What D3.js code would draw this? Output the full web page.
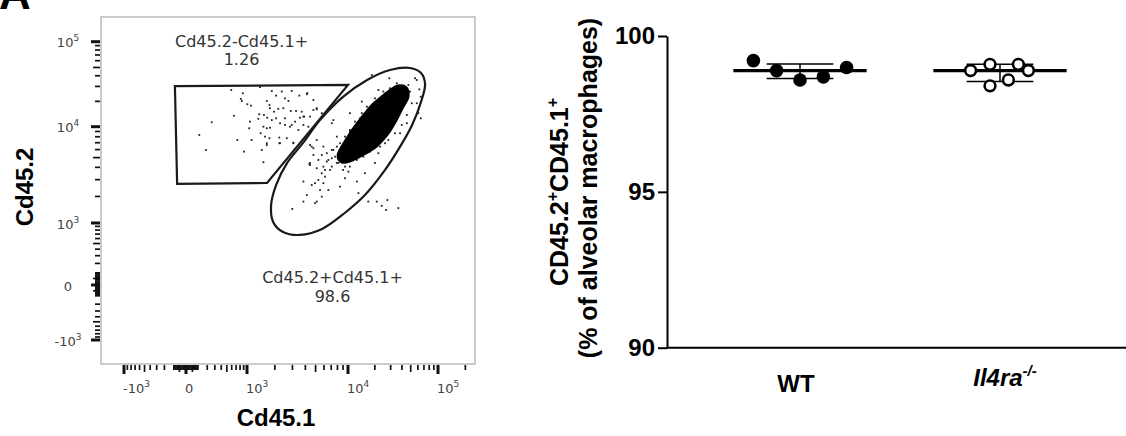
<!DOCTYPE html>
<html>
<head>
<meta charset="utf-8">
<script src="https://cdn.jsdelivr.net/npm/d3@7"></script>
<style>
  body { margin: 0; background: #fff; }
  svg { display: block; }
</style>
</head>
<body>
<svg id="chart" width="1126" height="436"></svg>
<script>
// ---- panel A: flow plot, Cd45.1 (x) vs Cd45.2 (y), fluorescence units ----
var flowMajor = [-1000, 0, 1000, 10000, 100000];
var flowTickLabels = [["-10", "3"], ["0", ""], ["10", "3"], ["10", "4"], ["10", "5"]];
var minorSteps = [1, 2, 3, 4, 5, 6, 7, 8, 9];
var posDecades = [10, 100, 1000, 10000, 100000];
var negDecades = [10, 100];

// gate outlines, [Cd45.1, Cd45.2]
var gateCd452neg = [[-90, 30300], [10000, 31200], [1660, 2770], [-70, 2710]];
var gateDouble = [[49100, 49300], [65000, 43100], [72000, 32000], [65000, 19700], [51800, 10500],
  [38000, 6370], [26000, 3770], [15500, 2070], [9390, 1320], [5750, 830], [3550, 680], [2420, 750],
  [1920, 1030], [1830, 1615], [2060, 2640], [2660, 4430], [3800, 6970], [5500, 12000], [9000, 22600],
  [16400, 35700], [29500, 46700]];
var gateLabels = [["Cd45.2-Cd45.1+", "1.26"], ["Cd45.2+Cd45.1+", "98.6"]];

// outline of the saturated event cloud
var denseCore = [[43300, 28700], [45600, 23200], [39100, 16700], [33500, 12000], [28800, 9300],
  [24100, 7620], [20700, 6650], [17300, 5950], [13700, 5310], [10500, 4740], [8820, 4640], [8280, 5190],
  [9010, 6370], [10000, 7620], [11400, 9100], [13300, 11100], [16000, 14200], [19100, 17700],
  [23500, 21400], [29500, 25900], [36300, 29500]];

// single events
var events = [
  [590, 27200], [1400, 29400], [875, 24900], [820, 21400], [850, 20200], [1010, 18500], [1110, 17800],
  [257, 11300], [650, 13500], [113, 8320], [186, 5950], [730, 7440], [910, 5730], [1130, 7440],
  [1080, 11500], [1060, 9660], [1340, 12400], [1370, 14100], [1540, 13800], [1650, 20200], [1760, 18100],
  [1860, 26500], [2060, 23400], [2350, 26100], [2530, 21700], [2740, 20200], [2950, 26500], [3500, 23400],
  [4130, 24300], [1780, 16600], [1960, 15100], [2170, 16300], [2440, 16600], [2890, 15400], [3250, 15400],
  [3690, 15100], [1670, 12800], [1860, 12000], [2060, 12600], [2260, 11000], [2530, 12600], [2950, 10500],
  [3180, 11500], [3550, 12800], [3890, 13200], [1520, 10000], [1650, 9660], [1780, 9790], [1420, 8650],
  [1580, 8020], [1760, 7740], [1650, 6920], [2220, 7850], [2220, 6920], [1460, 5950], [1520, 4500],
  [2640, 7740], [3060, 6920], [2530, 10500], [2840, 10000], [3430, 9300], [3830, 10500], [4430, 13200],
  [4770, 15800], [5130, 16600], [4430, 6650], [4770, 5310], [4360, 4300], [5130, 3920],
  [18500, 40800], [29000, 37400], [47100, 31200], [55800, 37400], [62300, 27700], [64500, 22700],
  [58300, 19000], [60800, 14500], [21900, 27200], [24500, 21700], [14300, 19900], [10500, 14500],
  [13700, 12600], [7330, 12000], [7090, 11000], [4180, 25000], [4770, 20800], [5130, 16100], [5720, 14500],
  [3830, 13200], [4270, 10000], [7890, 8020], [5920, 6410], [4770, 6190], [10500, 8960], [45300, 11000],
  [38100, 8650], [26000, 6920], [21900, 5530], [20100, 4430], [64500, 12600], [58300, 35700],
  [6370, 4570], [7090, 4930], [7890, 4430], [8770, 4740], [9390, 4070], [10100, 3620], [6830, 3770],
  [5920, 4070], [5720, 3490], [6130, 3220], [5310, 2980], [4940, 2760], [4600, 2640], [5920, 2760],
  [6590, 2340], [8450, 2540], [9390, 3100], [12600, 2870], [15500, 3490], [4430, 4430], [5510, 2340],
  [4130, 2070], [5130, 1760], [3830, 1760], [4940, 1690], [5720, 1990], [13100, 2170], [2990, 1460],
  [16900, 1760], [21000, 1760], [27600, 1830], [23900, 1580], [26700, 1420], [36500, 1490], [1650, 6650],
  [2260, 6920], [3060, 7010], [4600, 6410], [5130, 7440], [4430, 4220], [3830, 2870],
  [6590, 4740], [7090, 4070], [7600, 5110], [8160, 4430], [8450, 5950], [7330, 5950], [6130, 3770],
  [9010, 3770], [10500, 4070], [12600, 4740], [14900, 5110], [17700, 5730], [22900, 6410], [28300, 7440],
  [33500, 8650], [39800, 10500], [45300, 13800], [51400, 19000], [49100, 26100], [35100, 32600],
  [29500, 28500], [24900, 26100], [20100, 21700], [16300, 17300], [14300, 14500], [12000, 11500],
  [10500, 9300], [9390, 8020], [8450, 6920], [6370, 5530], [7090, 5950], [5720, 5310], [7890, 6410],
  [5310, 4740], [9010, 4930], [10500, 5110], [12600, 5310], [14900, 5730]
];

// ---- panel B: % CD45.2+CD45.1+ of alveolar macrophages ----
var groups = ["WT", "Il4ra"];
var wtValues = [99.21, 98.89, 98.59, 98.69, 98.99];
var koValues = [98.89, 99.09, 98.40, 98.59, 99.09, 98.89];
// horizontal scatter of the dots, as a fraction of the column width
var wtSpread = [-0.233, -0.117, 0, 0.117, 0.233];
var koSpread = [-0.147, -0.05, -0.05, 0.042, 0.092, 0.142];
var pctTicks = [90, 95, 100];

var svg = d3.select("#chart");
var sans = "'Liberation Sans', Arial, sans-serif";
var flowFont = "'DejaVu Sans', Verdana, sans-serif";

// panel letter, cut off at the top edge as in the figure
svg.append("text").attr("x", -1).attr("y", 9)
  .attr("font-family", sans).attr("font-weight", "bold").attr("font-size", 44).text("A");

// ---------- flow plot ----------
var frame = { left: 101, top: 17, right: 475, bottom: 364 };
var linZone = 300;
function tf(v) { return Math.sign(v) * Math.log10(1 + Math.abs(v) / linZone); }
var xLin = d3.scaleLinear().domain(flowMajor.map(tf)).range([124, 186, 247, 348, 438]);
var yLin = d3.scaleLinear().domain(flowMajor.map(tf)).range([340, 285, 223, 126.7, 41.7]);
function X(v) { return xLin(tf(v)); }
function Y(v) { return yLin(tf(v)); }

var ga = svg.append("g");
ga.append("rect")
  .attr("x", frame.left).attr("y", frame.top)
  .attr("width", frame.right - frame.left).attr("height", frame.bottom - frame.top)
  .attr("fill", "#fff").attr("stroke", "#a8a8a8").attr("stroke-width", 1.2);

// tick sets: majors, minors at 1..9 x decade, medium at 5 x decade
var minor = [];
posDecades.forEach(function (d) {
  minorSteps.forEach(function (m) {
    var v = m * d;
    if (flowMajor.indexOf(v) < 0) minor.push(v);
  });
});
negDecades.forEach(function (d) {
  minorSteps.forEach(function (m) { minor.push(-m * d); });
});
function tickSpec(v) {
  var lead = Math.abs(v) / Math.pow(10, Math.floor(Math.log10(Math.abs(v))));
  return { v: v, size: Math.round(lead) === 5 ? 7 : 5, w: 1.7 };
}
var allTicks = minor.map(tickSpec)
  .concat(flowMajor.map(function (v) { return { v: v, size: 9, w: 3 }; }));
var xTicks = allTicks.filter(function (t) { return X(t.v) > frame.left + 2 && X(t.v) < frame.right - 2; });
var yTicks = allTicks.filter(function (t) { return Y(t.v) > frame.top + 2 && Y(t.v) < frame.bottom - 2; });

ga.append("g").selectAll("line").data(xTicks).join("line")
  .attr("x1", function (t) { return X(t.v); }).attr("x2", function (t) { return X(t.v); })
  .attr("y1", frame.bottom + 1).attr("y2", function (t) { return frame.bottom + 1 + t.size; })
  .attr("stroke", "#111").attr("stroke-width", function (t) { return t.w; });

ga.append("g").selectAll("line").data(yTicks).join("line")
  .attr("y1", function (t) { return Y(t.v); }).attr("y2", function (t) { return Y(t.v); })
  .attr("x1", frame.left - 1).attr("x2", function (t) { return frame.left - 1 - t.size; })
  .attr("stroke", "#111").attr("stroke-width", function (t) { return t.w; });

function powLabel(sel, lab) {
  sel.append("tspan").text(lab[0]);
  if (lab[1]) sel.append("tspan").attr("font-size", 9).attr("dy", -6).text(lab[1]);
}

ga.append("g").selectAll("text").data(flowMajor).join("text")
  .attr("x", function (v) { return X(v) - 1; }).attr("y", 393)
  .attr("font-family", flowFont).attr("font-size", 13).attr("fill", "#444")
  .each(function (v, i) { powLabel(d3.select(this), flowTickLabels[i]); });

ga.append("g").selectAll("text").data(flowMajor).join("text")
  .attr("x", 68).attr("y", function (v) { return Y(v) + 5.5; })
  .attr("text-anchor", "middle")
  .attr("font-family", flowFont).attr("font-size", 13).attr("fill", "#444")
  .each(function (v, i) { powLabel(d3.select(this), flowTickLabels[i]); });

// events
ga.append("g").selectAll("rect").data(events).join("rect")
  .attr("x", function (d) { return X(d[0]) - 0.9; }).attr("y", function (d) { return Y(d[1]) - 0.9; })
  .attr("width", 1.8).attr("height", 1.8).attr("fill", "#222");

var ptLine = d3.line().x(function (d) { return X(d[0]); }).y(function (d) { return Y(d[1]); });

ga.append("path").datum(denseCore)
  .attr("d", ptLine.curve(d3.curveCatmullRomClosed.alpha(0.5)))
  .attr("fill", "#000").attr("stroke", "#000").attr("stroke-width", 5).attr("stroke-linejoin", "round");

ga.append("path").datum(gateCd452neg)
  .attr("d", ptLine.curve(d3.curveLinearClosed))
  .attr("fill", "none").attr("stroke", "#1a1a1a").attr("stroke-width", 2.2).attr("stroke-linejoin", "miter");

ga.append("path").datum(gateDouble)
  .attr("d", ptLine.curve(d3.curveCatmullRomClosed.alpha(0.5)))
  .attr("fill", "none").attr("stroke", "#1a1a1a").attr("stroke-width", 2.2);

var labelSpots = [[241.5, 47, 65], [332.5, 283, 302]];
gateLabels.forEach(function (lab, i) {
  var s = labelSpots[i];
  lab.forEach(function (line, j) {
    ga.append("text").attr("x", s[0]).attr("y", s[1 + j])
      .attr("text-anchor", "middle").attr("font-family", flowFont)
      .attr("font-size", 16).attr("fill", "#333").text(line);
  });
});

ga.append("text").attr("x", 276).attr("y", 426).attr("text-anchor", "middle")
  .attr("font-family", sans).attr("font-weight", "bold").attr("font-size", 24).text("Cd45.1");
ga.append("text").attr("transform", "translate(33,187) rotate(-90)").attr("text-anchor", "middle")
  .attr("font-family", sans).attr("font-weight", "bold").attr("font-size", 24).text("Cd45.2");

// ---------- percentage plot ----------
var axisX = 667;
var yPct = d3.scaleLinear().domain([90, 100]).range([347.7, 36]);
var xGrp = d3.scaleBand().domain(groups).range([700, 1100]);

var gb = svg.append("g");
gb.append("g").attr("transform", "translate(" + axisX + ",0)")
  .call(d3.axisLeft(yPct).tickValues(pctTicks).tickSize(9).tickSizeOuter(0).tickPadding(3))
  .attr("font-family", sans).attr("font-size", 24).attr("font-weight", "bold")
  .call(function (g) {
    g.select(".domain").attr("stroke", "#000").attr("stroke-width", 2);
    g.selectAll(".tick line").attr("stroke", "#000").attr("stroke-width", 2);
    g.selectAll(".tick text").attr("fill", "#000");
  });

gb.append("line").attr("x1", axisX - 1).attr("x2", 1126)
  .attr("y1", yPct(90)).attr("y2", yPct(90))
  .attr("stroke", "#000").attr("stroke-width", 2);

// median with interquartile range, (n+1)p percentiles
function quartile(vals, p) {
  var s = vals.slice().sort(d3.ascending), h = (s.length + 1) * p;
  if (h <= 1) return s[0];
  if (h >= s.length) return s[s.length - 1];
  var i = Math.floor(h);
  return s[i - 1] + (h - i) * (s[i] - s[i - 1]);
}

var groupValues = [wtValues, koValues];
var groupSpread = [wtSpread, koSpread];
groups.forEach(function (grp, gi) {
  var vals = groupValues[gi];
  var cx = xGrp(grp) + xGrp.bandwidth() / 2;
  var w = xGrp.bandwidth();
  var med = quartile(vals, 0.5), q1 = quartile(vals, 0.25), q3 = quartile(vals, 0.75);
  var gg = gb.append("g");
  gg.append("line").attr("x1", cx).attr("x2", cx).attr("y1", yPct(q1)).attr("y2", yPct(q3))
    .attr("stroke", "#000").attr("stroke-width", 1.5);
  [q1, q3].forEach(function (q) {
    gg.append("line").attr("x1", cx - w / 6).attr("x2", cx + w / 6)
      .attr("y1", yPct(q)).attr("y2", yPct(q)).attr("stroke", "#000").attr("stroke-width", 1.5);
  });
  gg.append("line").attr("x1", cx - w / 3).attr("x2", cx + w / 3)
    .attr("y1", yPct(med)).attr("y2", yPct(med)).attr("stroke", "#000").attr("stroke-width", 3.2);
  gg.selectAll("circle").data(vals).join("circle")
    .attr("cx", function (d, i) { return cx + groupSpread[gi][i] * w; })
    .attr("cy", function (d) { return yPct(d); })
    .attr("r", gi === 0 ? 6.8 : 5.4)
    .attr("fill", gi === 0 ? "#000" : "#fff")
    .attr("stroke", "#000").attr("stroke-width", gi === 0 ? 0 : 2.6);
});

gb.append("text").attr("x", xGrp("WT") + xGrp.bandwidth() / 2 - 4).attr("y", 392)
  .attr("text-anchor", "middle").attr("font-family", sans).attr("font-weight", "bold")
  .attr("font-size", 24).text("WT");
var koLab = gb.append("text").attr("x", xGrp("Il4ra") + xGrp.bandwidth() / 2 + 5).attr("y", 386)
  .attr("text-anchor", "middle").attr("font-family", sans).attr("font-weight", "bold")
  .attr("font-style", "italic").attr("font-size", 24);
koLab.append("tspan").text("Il4ra");
koLab.append("tspan").attr("font-size", 15).attr("dy", -10).text("-/-");

var yTitle = gb.append("g").attr("font-family", sans).attr("font-weight", "bold").attr("font-size", 25);
var t1 = yTitle.append("text").attr("transform", "translate(568,192) rotate(-90)").attr("text-anchor", "middle");
t1.append("tspan").text("CD45.2");
t1.append("tspan").attr("font-size", 16).attr("dy", -10).text("+");
t1.append("tspan").attr("dy", 10).text("CD45.1");
t1.append("tspan").attr("font-size", 16).attr("dy", -10).text("+");
yTitle.append("text").attr("transform", "translate(597,188) rotate(-90)").attr("text-anchor", "middle")
  .text("(% of alveolar macrophages)");
</script>
</body>
</html>
